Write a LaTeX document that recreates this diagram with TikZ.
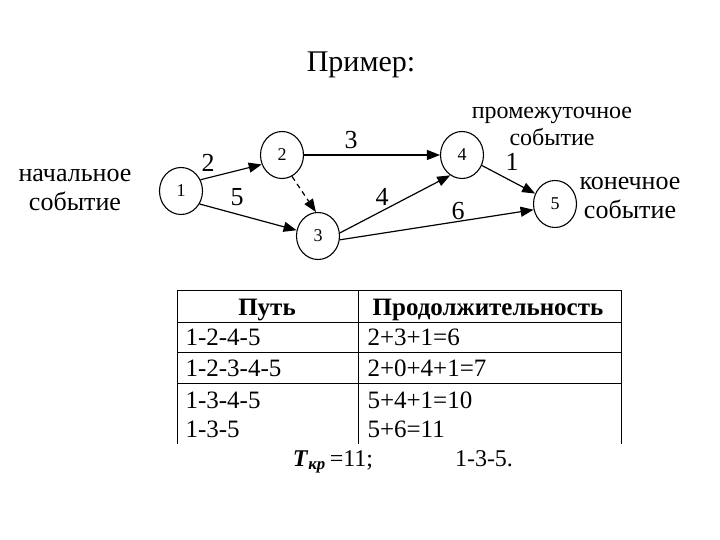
\documentclass[tikz,border=0pt]{standalone}
\usepackage{fontspec}
\setmainfont{Liberation Serif}
\usetikzlibrary{arrows.meta,shapes.geometric}

\begin{document}
\begin{tikzpicture}[x=1pt,y=-1pt,
    event/.style={draw,ellipse,line width=1.1pt,minimum width=43pt,minimum height=47pt,
      inner sep=0pt,font=\fontsize{18}{18}\selectfont},
    arr/.style={line width=1.2pt,-{Triangle[length=13pt,width=10pt]}},
    weight/.style={font=\fontsize{26}{26}\selectfont},
    note/.style={align=center,font=\fontsize{26}{29}\selectfont},
    tbl/.style={line width=1pt},
    cell/.style={anchor=base west,font=\fontsize{25}{25}\selectfont},
    head/.style={anchor=base,font=\fontsize{25}{25}\selectfont\bfseries}]
  \useasboundingbox (0,0) rectangle (720,540);
  \node[anchor=base,font=\fontsize{30}{30}\selectfont] (title) at (361,72) {Пример:};
  % events
  \node[event] (n1) at (181,191) {1};
  \node[event] (n2) at (282,155) {2};
  \node[event] (n3) at (318,236) {3};
  \node[event] (n4) at (462,155) {4};
  \node[event] (n5) at (555,204) {5};
  % works
  \draw[arr] (n1.30) -- (n2.205);
  \draw[arr] (n1.325) -- (n3.165);
  \draw[arr,dash pattern=on 5pt off 4pt] (n2.295) -- (n3.95);
  \draw[arr] (n2) -- (n4);
  \draw[arr] (n3.8) -- (n4.240);
  \draw[arr] (n3.350) -- (n5.195);
  \draw[arr] (n4) -- (n5);
  \node[weight] (w12) at (208,163) {2};
  \node[weight] (w13) at (237,197) {5};
  \node[weight] (w24) at (351,140) {3};
  \node[weight] (w34) at (382,197) {4};
  \node[weight] (w35) at (458,211) {6};
  \node[weight] (w45) at (512,162) {1};
  \node[note] (start) at (75,190) {начальное\\событие};
  \node[note,font=\fontsize{24}{27}\selectfont] (mid) at (552,126) {промежуточное\\событие};
  \node[note] (finish) at (630,198) {конечное\\событие};
  % table
  \foreach \y in {290,322,352,383}
    \draw[tbl] (177,\y) -- (621,\y);
  \foreach \x in {177,358,621}
    \draw[tbl] (\x,290) -- (\x,444);
  \node[head] (hpath) at (267,315) {Путь};
  \node[head] (hdur) at (488,315) {Продолжительность};
  \foreach \y/\p/\d in {345/1-2-4-5/2+3+1=6,376/1-2-3-4-5/2+0+4+1=7,
      408/1-3-4-5/5+4+1=10,437/1-3-5/5+6=11}{
    \node[cell] (p\y) at (182,\y) {\p};
    \node[cell] (d\y) at (364,\y) {\d};
  }
  \node[anchor=base,font=\fontsize{24}{24}\selectfont] (tcr) at (333,466)
    {\textbf{\textit{T}}\textsubscript{\textbf{\textit{кр}}}\,=11;};
  \node[anchor=base,font=\fontsize{24}{24}\selectfont] (crit) at (484,466) {1-3-5.};
\end{tikzpicture}
\end{document}
